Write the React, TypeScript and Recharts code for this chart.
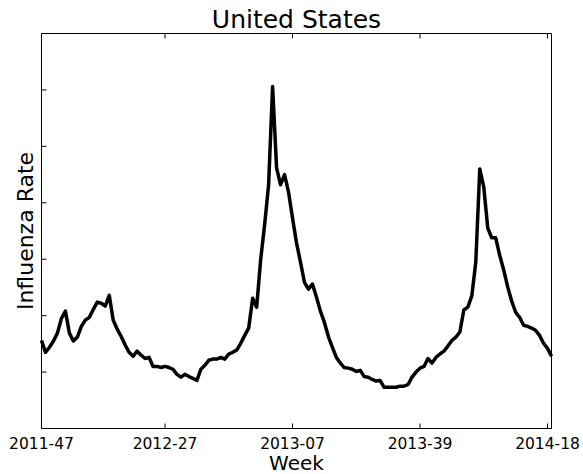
import React from 'react';
import { LineChart, Line, XAxis, YAxis } from 'recharts';

// weekly influenza rate, 2011-47 .. 2014-19
const rates = [
  1.56, 1.35, 1.44, 1.55, 1.69, 1.95, 2.08, 1.69, 1.55, 1.62,
  1.81, 1.92, 1.97, 2.11, 2.24, 2.22, 2.17, 2.36, 1.92, 1.76,
  1.63, 1.48, 1.35, 1.28, 1.37, 1.30, 1.24, 1.26, 1.10, 1.10,
  1.08, 1.10, 1.08, 1.05, 0.96, 0.91, 0.96, 0.92, 0.89, 0.85,
  1.05, 1.12, 1.21, 1.23, 1.23, 1.26, 1.23, 1.32, 1.35, 1.39,
  1.51, 1.65, 1.78, 2.31, 2.15, 2.99, 3.61, 4.32, 6.06, 4.62,
  4.32, 4.50, 4.19, 3.73, 3.29, 2.95, 2.59, 2.47, 2.56, 2.33,
  2.08, 1.88, 1.63, 1.44, 1.26, 1.16, 1.08, 1.07, 1.05, 1.01,
  1.03, 0.92, 0.91, 0.87, 0.84, 0.85, 0.73, 0.73, 0.73, 0.73,
  0.75, 0.75, 0.78, 0.91, 1.00, 1.07, 1.10, 1.24, 1.16, 1.26,
  1.32, 1.37, 1.46, 1.56, 1.62, 1.71, 2.10, 2.15, 2.35, 2.95,
  4.60, 4.28, 3.55, 3.38, 3.38, 3.07, 2.81, 2.51, 2.26, 2.06,
  1.97, 1.83, 1.81, 1.78, 1.74, 1.65, 1.51, 1.42, 1.28,
];

const weekTicks = [0, 31, 63, 95, 127];
const weekLabels = ['2011-47', '2012-27', '2013-07', '2013-39', '2014-18'];
const rateTicks = [0, 1, 2, 3, 4, 5, 6, 7];

const data = rates.map((rate, i) => ({ week: i, rate }));

const font = '"DejaVu Sans", sans-serif';
const W = 583;
const H = 474;

const tickLine = { stroke: '#000', strokeWidth: 1 };
const noLabel = () => '';

const App = () => {
  return (
    <div style={{ position: 'absolute', left: 0, top: 0, width: W, height: H, fontFamily: font }}>
      <LineChart
        width={W}
        height={H}
        data={data}
        margin={{ top: 33.5, right: 31.5, bottom: 15.5, left: 41.5 }}
      >
        <XAxis
          dataKey="week"
          type="number"
          domain={[0, 128]}
          ticks={weekTicks}
          tickFormatter={(v) => weekLabels[weekTicks.indexOf(v)] ?? ''}
          height={30}
          tickSize={-5}
          tickMargin={14}
          interval={0}
          stroke="#000"
          tickLine={tickLine}
          tick={{ fill: '#000', fontSize: 15.5, fontFamily: font }}
        />
        <XAxis
          xAxisId="top"
          orientation="top"
          type="number"
          domain={[0, 128]}
          ticks={weekTicks}
          height={20}
          mirror
          tickSize={5}
          tickLine={tickLine}
          tickFormatter={noLabel}
          interval={0}
          stroke="#000"
        />
        <YAxis
          type="number"
          domain={[0, 7]}
          ticks={rateTicks}
          width={20}
          mirror
          tickSize={5}
          tickLine={tickLine}
          tickFormatter={noLabel}
          interval={0}
          stroke="#000"
        />
        <YAxis
          yAxisId="right"
          orientation="right"
          type="number"
          domain={[0, 7]}
          ticks={rateTicks}
          width={20}
          mirror
          tickSize={5}
          tickLine={tickLine}
          tickFormatter={noLabel}
          interval={0}
          stroke="#000"
        />
        <Line
          type="linear"
          dataKey="rate"
          stroke="#000"
          strokeWidth={3.5}
          dot={false}
          strokeLinejoin="round"
          isAnimationActive={false}
        />
      </LineChart>
      <svg
        width={W}
        height={H}
        style={{ position: 'absolute', left: 0, top: 0, pointerEvents: 'none' }}
      >
        <text x={296.5} y={28} textAnchor="middle" fontSize={25} fontFamily={font} fill="#000">
          United States
        </text>
        <text x={296.5} y={470} textAnchor="middle" fontSize={20} fontFamily={font} fill="#000">
          Week
        </text>
        <text
          transform="translate(33,231) rotate(-90)"
          textAnchor="middle"
          fontSize={22}
          fontFamily={font}
          fill="#000"
        >
          Influenza Rate
        </text>
      </svg>
    </div>
  );
};

export default App;
